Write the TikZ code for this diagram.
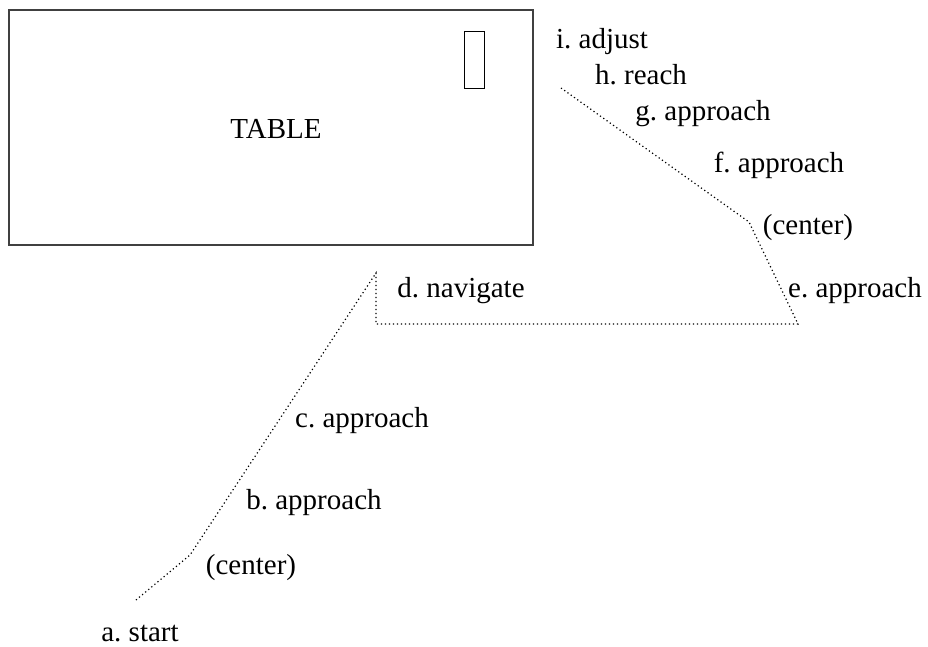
\documentclass[tikz,border=0pt]{standalone}
\usepackage{fontspec}
\setmainfont{Liberation Serif}
\frenchspacing
\begin{document}
\begin{tikzpicture}[x=1pt,y=-1pt,
  lbl/.style={inner sep=0pt,anchor=base,font=\fontsize{29}{35}\selectfont},
  route/.style={line width=1.2pt,dash pattern=on 1.2pt off 2.8pt},
  frame/.style={draw=black!75,line width=1.2pt}]
\useasboundingbox (0,0) rectangle (928,647);
% table and the small marker on it
\draw[frame] (9,10) rectangle (533,245);
\draw[line width=1pt] (464,32) rectangle (484,89);
\node[lbl] (table) at (276,139) {TABLE};
% waypoints of the route
\coordinate (pa) at (136,600);
\coordinate (pc1) at (190,555);
\coordinate (pd) at (376,273);
\coordinate (pd2) at (376,324);
\coordinate (pe) at (798,324);
\coordinate (pc2) at (749,222);
\coordinate (pi) at (561,88);
\draw[route] (pa) -- (pc1) -- (pd) -- (pd2) -- (pe) -- (pc2) -- (pi);
% step labels (placed by baseline)
\node[lbl] (la) at (140,641) {a. start};
\node[lbl] (lc1) at (251,574) {(center)};
\node[lbl] (lb) at (314,509) {b. approach};
\node[lbl] (lcc) at (362,427) {c. approach};
\node[lbl] (ld) at (461,297) {d. navigate};
\node[lbl] (le) at (855,297) {e. approach};
\node[lbl] (lc2) at (808,234) {(center)};
\node[lbl] (lf) at (779,172) {f. approach};
\node[lbl] (lg) at (703,121) {g. approach};
\node[lbl] (lh) at (641,85) {h. reach};
\node[lbl] (li) at (602,49) {i. adjust};
\end{tikzpicture}
\end{document}
